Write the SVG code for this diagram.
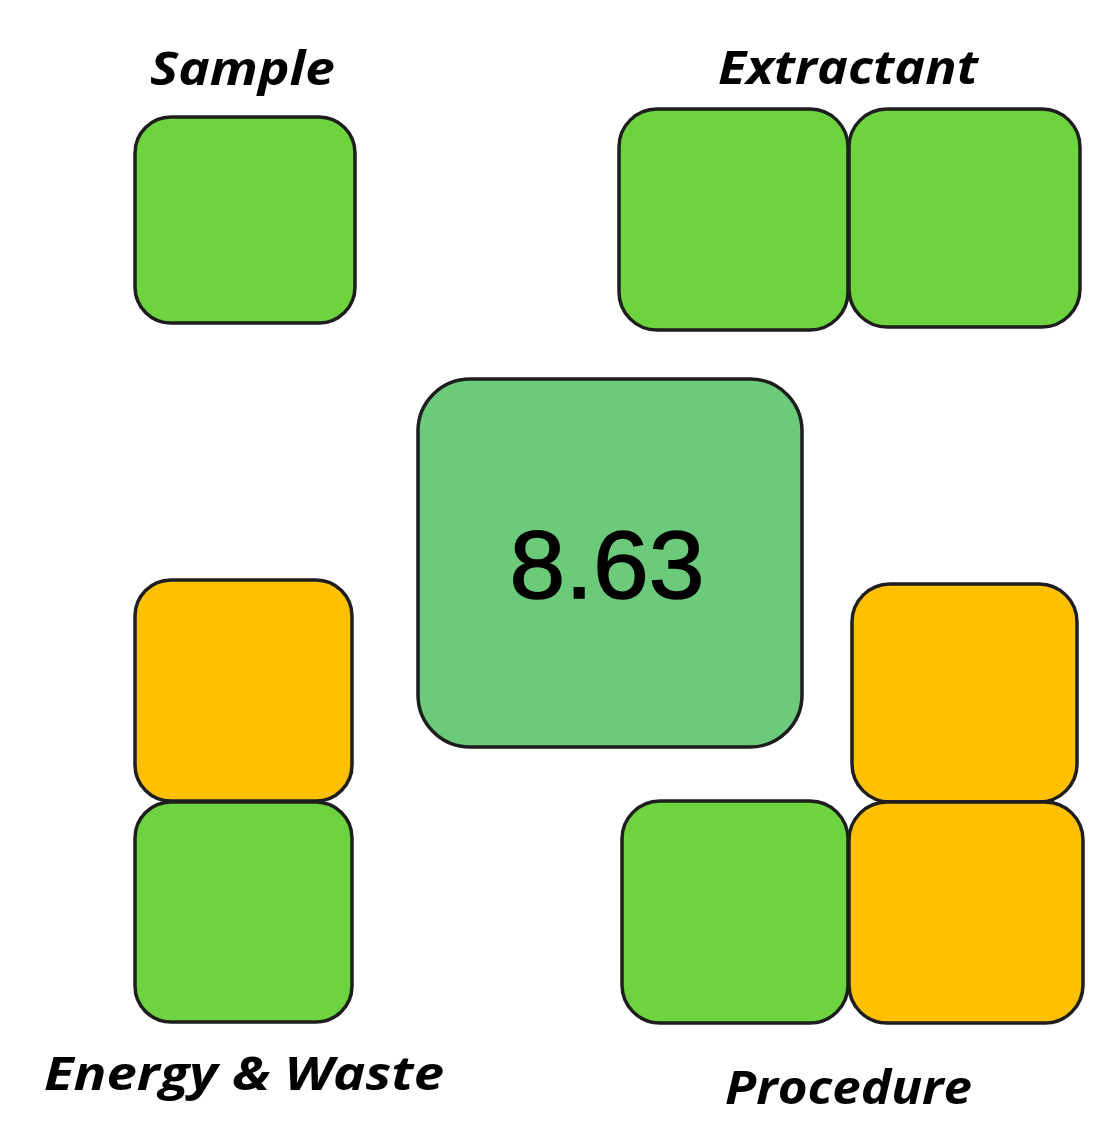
<svg xmlns="http://www.w3.org/2000/svg" width="1113" height="1139" viewBox="0 0 1113 1139">
<style>
.box{stroke:#1e1e1e;stroke-width:3.5}
.g{fill:#6DD33F}
.o{fill:#FFC000}
.c{fill:#6BCB7A}
.lbl{font-family:"Open Sans","Liberation Sans",sans-serif;font-weight:bold;font-style:italic;font-size:46px;fill:#000}
.num{font-family:"Liberation Sans",Arial,sans-serif;font-size:96px;fill:#000;stroke:#000;stroke-width:1.5;text-anchor:middle}
</style>
<rect width="1113" height="1139" fill="#fff"/>
<g id="connectors"/>
<g id="sample">
<rect class="box g" x="135" y="117" width="220" height="206" rx="36"/>
<text class="lbl" x="150" y="85" textLength="185" lengthAdjust="spacingAndGlyphs">Sample</text>
</g>
<g id="extractant">
<rect class="box g" x="619" y="109" width="229" height="221" rx="38"/>
<rect class="box g" x="849" y="109" width="231" height="218" rx="38"/>
<text class="lbl" x="718" y="84" textLength="260" lengthAdjust="spacingAndGlyphs">Extractant</text>
</g>
<g id="score">
<rect class="box c" x="418" y="379" width="384" height="368" rx="52"/>
<text class="num" x="607" y="598" textLength="195" lengthAdjust="spacingAndGlyphs">8.63</text>
</g>
<g id="energy-waste">
<rect class="box o" x="135" y="580" width="217" height="221" rx="36"/>
<rect class="box g" x="135" y="802" width="217" height="220" rx="36"/>
<text class="lbl" x="44" y="1090" textLength="400" lengthAdjust="spacingAndGlyphs">Energy &amp; Waste</text>
</g>
<g id="procedure">
<rect class="box o" x="852" y="584" width="225" height="218" rx="38"/>
<rect class="box g" x="622" y="801" width="226" height="222" rx="38"/>
<rect class="box o" x="849" y="802" width="234" height="221" rx="38"/>
<text class="lbl" x="725" y="1104" textLength="247" lengthAdjust="spacingAndGlyphs">Procedure</text>
</g>
</svg>
